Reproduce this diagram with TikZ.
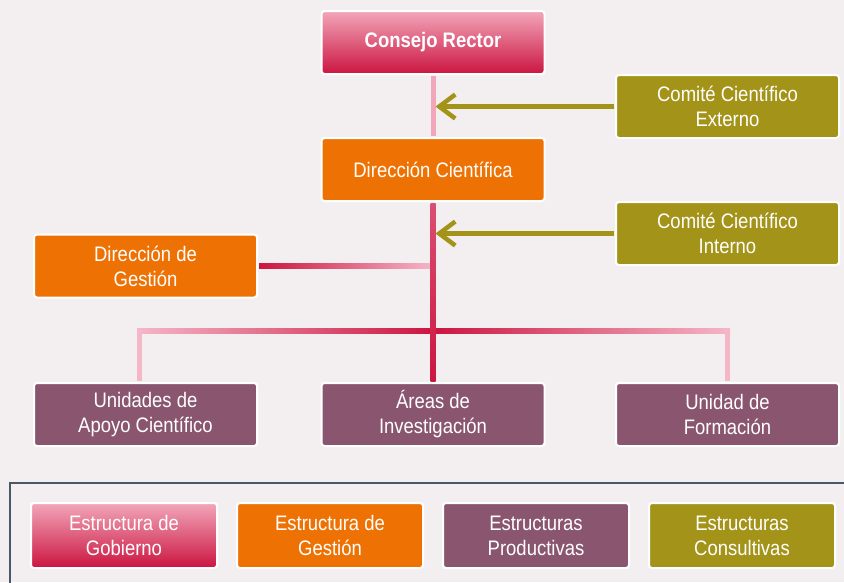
\documentclass[tikz,border=0pt]{standalone}
\usepackage{fontspec}
\setmainfont[FakeStretch=0.88]{Liberation Sans}
\usepackage{xcolor}
\usepackage{tikz}
\usetikzlibrary{positioning,calc,arrows.meta}

\definecolor{fondo}{HTML}{F3EFF0}
\definecolor{rosa}{HTML}{F2A6BA}
\definecolor{rosaclaro}{HTML}{F5B6C8}
\definecolor{carmin}{HTML}{CB1540}
\definecolor{naranja}{HTML}{EE7203}
\definecolor{malva}{HTML}{8A566F}
\definecolor{oliva}{HTML}{A39319}
\definecolor{marco}{HTML}{4A5866}

\tikzset{
    caja/.style={rounded corners=3pt, draw=white, line width=2pt, text=white,
        align=center, inner sep=0pt, minimum width=223pt, minimum height=63pt,
        font=\fontsize{21}{25}\selectfont},
    gobierno/.style={caja, top color=rosa, bottom color=carmin},
    gestion/.style={caja, fill=naranja},
    productiva/.style={caja, fill=malva},
    consultiva/.style={caja, fill=oliva},
    leyenda/.style={minimum width=186pt, minimum height=65pt},
    tronco/.style={line width=5pt},
    flecha/.style={draw=oliva, line width=4.5pt, shorten <=1pt,
        -{Straight Barb[length=16pt,width=24pt]}},
}

\begin{document}
\begin{tikzpicture}[x=1pt,y=-1pt]
    \fill[fondo] (0,0) rectangle (844,582);
    \useasboundingbox (0,0) rectangle (844,582);

    % Gobierno y direccion
    \node[gobierno, font=\fontsize{21}{25}\selectfont\bfseries] (cr) at (433,42.5) {Consejo Rector};
    \node[gestion] (dc) at (433,169.5) {Dirección Científica};
    \node[gestion] (dg) at (145.5,266) {Dirección de\\Gestión};

    % Comites
    \node[consultiva] (cce) at (727.5,106.5) {Comité Científico\\Externo};
    \node[consultiva] (cci) at (727.5,233.5) {Comité Científico\\Interno};

    % Estructuras productivas
    \node[productiva] (uac) at (145.5,414.5) {Unidades de\\Apoyo Científico};
    \node[productiva] (ai) at (433,414.5) {Áreas de\\Investigación};
    \node[productiva] (uf) at (727.5,414.5) {Unidad de\\Formación};

    % Lineas
    \coordinate (bus) at (433,331);
    \draw[rosa, tronco, shorten <=1pt, shorten >=1pt] (cr.south) -- (dc.north);
    \shade[left color=carmin, right color=rosaclaro]
        ($(dg.east)+(1,-2.5)$) rectangle ($(dg.east -| ai.north)+(0,2.5)$);
    \shade[left color=rosaclaro, right color=carmin]
        ($(uac.north |- bus)+(-8.5,-2.5)$) rectangle ($(bus)+(0,2.5)$);
    \shade[left color=carmin, right color=rosaclaro]
        ($(bus)+(0,-2.5)$) rectangle ($(uf.north |- bus)+(2.5,2.5)$);
    \draw[rosaclaro, tronco, shorten >=1pt] ($(uac.north |- bus)+(-6,-2.5)$) -- ($(uac.north)+(-6,0)$);
    \draw[rosaclaro, tronco, shorten >=1pt] ($(uf.north |- bus)+(0,-2.5)$) -- (uf.north);
    \shade[top color=carmin!60!rosa, bottom color=carmin]
        ($(dc.south)+(-2.5,1)$) rectangle ($(ai.north)+(2.5,-1)$);

    % Flechas
    \draw[flecha] (cce.west) -- ($(cce.west -| cr.south)+(2.5,0)$);
    \draw[flecha] (cci.west) -- ($(cci.west -| dc.south)+(2.5,0)$);

    % Leyenda
    \draw[marco, line width=2pt] (846,483) -- (10,483) -- (10,584);
    \node[gobierno, leyenda] (lgob) at (124,535.5) {Estructura de\\Gobierno};
    \node[gestion, leyenda] (lges) at (330,535.5) {Estructura de\\Gestión};
    \node[productiva, leyenda] (lpro) at (536,535.5) {Estructuras\\Productivas};
    \node[consultiva, leyenda] (lcon) at (742,535.5) {Estructuras\\Consultivas};
\end{tikzpicture}
\end{document}
